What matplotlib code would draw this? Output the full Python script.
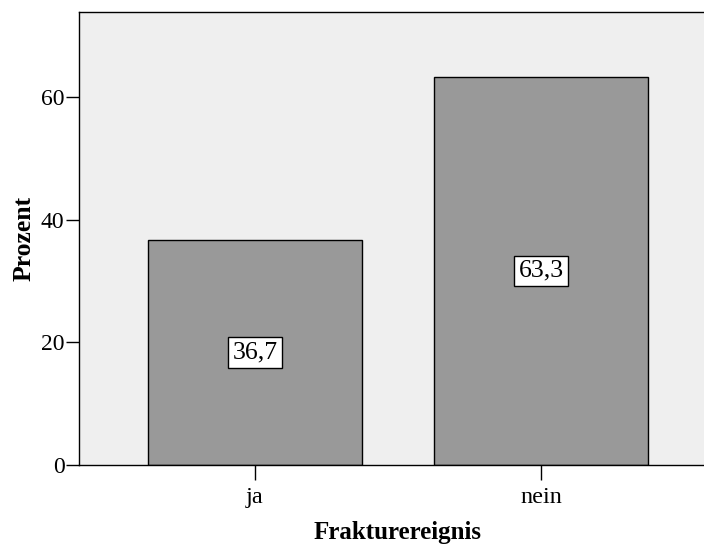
import matplotlib
matplotlib.use("Agg")
import matplotlib.pyplot as plt

categories = ["ja", "nein"]
percent = [36.7, 63.3]
value_labels = ["36,7", "63,3"]
y_ticks = [0, 20, 40, 60]

plt.rcParams['font.family'] = ['Liberation Serif', 'DejaVu Serif']

fig = plt.figure(figsize=(7.04, 5.44), dpi=100)
# plot area runs slightly past the right edge, like the original export
ax = fig.add_axes([79 / 704, 1 - 465 / 544, (717 - 79) / 704, (465 - 12) / 544])
ax.set_facecolor('#efefef')

x = list(range(len(categories)))
bars = ax.bar(x, percent, width=0.75, color='#999999', edgecolor='black', linewidth=1.0, zorder=2)

for xi, val, lab in zip(x, percent, value_labels):
    ax.text(xi, val / 2, lab, ha='center', va='center', fontsize=18.5,
            bbox=dict(boxstyle='square,pad=0.16', facecolor='white', edgecolor='black', linewidth=1.0),
            zorder=3)

ax.set_xlim(-0.615, 1.615)
ax.set_ylim(0, 73.85)
ax.set_xticks(x)
ax.set_xticklabels(categories, fontsize=17.5)
ax.set_yticks(y_ticks)
ax.set_yticklabels([str(t) for t in y_ticks], fontsize=17)
ax.tick_params(axis='y', length=9.5, width=1.0, pad=1)
ax.tick_params(axis='x', length=11, width=1.0, pad=5)

ax.spines['right'].set_visible(False)
for s in ['left', 'bottom', 'top']:
    ax.spines[s].set_linewidth(1.0)

ax.set_ylabel('Prozent', fontsize=18.5, fontweight='bold', labelpad=4)
ax.set_xlabel('Frakturereignis', fontsize=18, fontweight='bold', labelpad=9)

fig.savefig('out.png', dpi=100)
